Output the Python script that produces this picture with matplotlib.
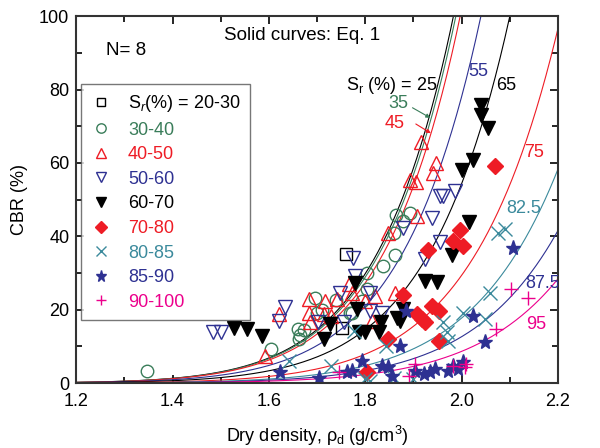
import numpy as np
import matplotlib
matplotlib.use('Agg')
import matplotlib.pyplot as plt
from matplotlib.ticker import MultipleLocator

plt.rcParams['font.family'] = ['Liberation Sans', 'DejaVu Sans']
plt.rcParams['mathtext.fontset'] = 'custom'
plt.rcParams['mathtext.rm'] = 'Liberation Sans'
plt.rcParams['mathtext.it'] = 'Liberation Sans:italic'

# colours used in the figure
GREEN = '#3a7d5a'
RED = '#ee1c25'
BLUE = '#2e3192'
TEAL = '#3b8a9c'
MAGENTA = '#ec008c'

# measured data (dry density g/cm3, CBR %) per degree-of-saturation group
sq_rho = [1.759, 1.752]
sq_cbr = [35.3, 15.0]

circ_rho = [1.347, 1.605, 1.66, 1.664, 1.662, 1.673, 1.695, 1.70, 1.710, 1.74,
            1.768, 1.772, 1.793, 1.803, 1.803, 1.837, 1.861, 1.859, 1.864, 1.879, 1.893]
circ_cbr = [3.4, 9.4, 14.7, 13.0, 12.0, 14.4, 23.3, 19.2, 19.9, 22.6,
            19.2, 19.2, 22.4, 25.5, 30.0, 32.0, 34.8, 41.0, 45.9, 44.1, 46.4]

tri_rho = [1.591, 1.621, 1.683, 1.683, 1.686, 1.717, 1.714, 1.728, 1.741, 1.766,
           1.772, 1.80, 1.821, 1.814, 1.848, 1.862, 1.893, 1.906, 1.907, 1.915,
           1.94, 1.947]
tri_cbr = [7.4, 18.8, 22.8, 19.2, 16.5, 22.4, 18.8, 18.3, 22.8, 26.9,
           24.6, 22.4, 23.7, 16.9, 40.9, 24.6, 55.4, 54.7, 45.5, 65.6,
           57.2, 60.0]

dtri_rho = [1.483, 1.50, 1.621, 1.634, 1.702, 1.748, 1.755, 1.774, 1.778, 1.81,
            1.81, 1.834, 1.878, 1.924, 1.938, 1.955, 1.955, 1.962, 1.986]
dtri_cbr = [13.8, 13.9, 16.9, 20.6, 16.5, 24.6, 16.7, 34.1, 29.3, 24.6,
            19.7, 19.2, 42.3, 33.7, 45.0, 38.4, 50.9, 50.9, 52.3]

ftri_rho = [1.528, 1.555, 1.585, 1.714, 1.726, 1.779, 1.783, 1.786, 1.799, 1.828,
            1.832, 1.866, 1.872, 1.879, 1.923, 1.948, 1.979, 2.0, 2.024, 2.016,
            2.041, 2.041, 2.055]
ftri_cbr = [15.1, 14.7, 12.9, 12.0, 16.0, 27.4, 20.1, 13.8, 13.9, 13.8,
            16.5, 17.8, 16.9, 20.1, 27.8, 27.5, 34.8, 58.0, 60.7, 43.8,
            75.8, 73.1, 69.5]

dia_rho = [1.803, 1.848, 1.879, 1.907, 1.917, 1.924, 1.931, 1.938, 1.952, 1.952,
           1.983, 1.997, 2.003, 2.069]
dia_cbr = [3.1, 12.1, 23.9, 18.8, 17.4, 16.7, 36.2, 21.0, 19.7, 11.5,
           38.7, 41.8, 37.3, 59.1]

x_rho = [1.641, 1.728, 1.776, 1.80, 1.81, 1.843, 1.86, 1.90, 1.962, 1.969,
         1.972, 2.003, 2.048, 2.059, 2.076, 2.09]
x_cbr = [6.1, 4.7, 14.2, 1.1, 0.6, 10.1, 1.5, 1.0, 16.5, 13.8,
         11.5, 19.2, 17.4, 24.6, 40.9, 42.0]

star_rho = [1.624, 1.703, 1.762, 1.772, 1.793, 1.834, 1.848, 1.855, 1.872, 1.885,
            1.903, 1.921, 1.934, 1.945, 1.972, 1.983, 1.993, 2.003, 2.024, 2.048,
            2.107]
star_cbr = [2.9, 1.5, 2.9, 3.4, 6.1, 4.7, 4.3, 2.0, 10.1, 19.7,
            3.4, 2.4, 2.9, 3.8, 3.4, 4.7, 3.8, 5.6, 18.3, 11.1,
            36.9]

plus_rho = [1.745, 1.89, 1.903, 1.983, 2.007, 2.01, 2.072, 2.103, 2.138]
plus_cbr = [3.1, 2.0, 5.2, 4.7, 4.3, 5.2, 14.7, 25.7, 23.3]

# Eq. 1 curves: CBR = 100 * (rho_d / rho_100)^n, rho_100
curve_sr = ['25', '35', '45', '55', '65', '75', '82.5', '87.5', '95']
curve_rho100 = [1.983, 1.988, 1.997, 2.040, 2.10, 2.206, 2.297, 2.36, 2.433]
curve_n = 12.5
curve_col = ['black', GREEN, RED, BLUE, 'black', RED, TEAL, BLUE, MAGENTA]

fig = plt.figure(figsize=(6, 4.48), dpi=100)
ax = fig.add_axes([0.127, 0.145, 0.803, 0.819])

rho = np.linspace(1.2, 2.2, 400)
for r100, c in zip(curve_rho100, curve_col):
    ax.plot(rho, 100 * (rho / r100) ** curve_n, color=c, lw=0.8, zorder=2)

ms = 9
ax.plot(sq_rho, sq_cbr, 's', mfc='none', mec='black', ms=8, mew=1, label='S$_r$(%) = 20-30')
ax.plot(circ_rho, circ_cbr, 'o', mfc='none', mec=GREEN, ms=ms, mew=1, label='30-40')
ax.plot(tri_rho, tri_cbr, '^', mfc='none', mec=RED, ms=ms + 1, mew=1, label='40-50')
ax.plot(dtri_rho, dtri_cbr, 'v', mfc='none', mec=BLUE, ms=ms + 1, mew=1, label='50-60')
ax.plot(ftri_rho, ftri_cbr, 'v', color='black', ms=ms + 1, mew=1, label='60-70')
ax.plot(dia_rho, dia_cbr, 'D', color=RED, ms=ms - 0.5, mew=1, label='70-80')
ax.plot(x_rho, x_cbr, 'x', color=TEAL, ms=ms + 1, mew=1, label='80-85')
ax.plot(star_rho, star_cbr, '*', color=BLUE, ms=ms + 2, mew=1, label='85-90')
ax.plot(plus_rho, plus_cbr, '+', color=MAGENTA, ms=ms + 1, mew=1, label='90-100')

ax.set_xlim(1.2, 2.2)
ax.set_ylim(0, 100)
ax.xaxis.set_major_locator(MultipleLocator(0.2))
ax.xaxis.set_minor_locator(MultipleLocator(0.1))
ax.yaxis.set_major_locator(MultipleLocator(20))
ax.yaxis.set_minor_locator(MultipleLocator(10))
ax.xaxis.set_major_formatter(matplotlib.ticker.FormatStrFormatter('%.1f'))
ax.tick_params(which='both', direction='in', top=True, right=True, labelsize=13, width=1.2)
ax.tick_params(which='major', length=6)
ax.tick_params(which='minor', length=4)
ax.tick_params(axis='x', pad=7)
ax.tick_params(axis='y', pad=5)
for s in ax.spines.values():
    s.set_linewidth(1.5)
    s.set_color('#333333')

ax.set_xlabel('Dry density, ρ$_\\mathregular{d}$ (g/cm$^\\mathregular{3}$)', fontsize=13, labelpad=10)
ax.set_ylabel('CBR (%)', fontsize=13, labelpad=8)

ax.text(1.507, 94.6, 'Solid curves: Eq. 1', fontsize=13.5, va='center')
ax.text(1.262, 90.6, 'N= 8', fontsize=13.5, va='center')

# curve labels
ax.text(1.759, 81.2, 'S$_\\mathregular{r}$ (%) = 25', fontsize=13, va='center')
ax.text(1.848, 76.1, '35', fontsize=13, va='center', color=GREEN)
ax.text(1.841, 70.7, '45', fontsize=13, va='center', color=RED)
ax.annotate('', xy=(1.940, 71.9), xytext=(1.893, 75.4),
            arrowprops=dict(arrowstyle='-|>', color=GREEN, lw=0.8, mutation_scale=6))
ax.annotate('', xy=(1.941, 67.7), xytext=(1.900, 71.0),
            arrowprops=dict(arrowstyle='-|>', color=RED, lw=0.8, mutation_scale=6))
ax.text(2.014, 84.9, '55', fontsize=13, va='center', color=BLUE)
ax.text(2.072, 81.0, '65', fontsize=13, va='center', color='black')
ax.text(2.129, 62.9, '75', fontsize=13, va='center', color=RED)
ax.text(2.093, 47.6, '82.5', fontsize=13, va='center', color=TEAL)
ax.text(2.131, 27.2, '87.5', fontsize=13, va='center', color=BLUE, clip_on=True)
ax.text(2.133, 16.0, '95', fontsize=13, va='center', color=MAGENTA)

leg = ax.legend(loc='upper left', bbox_to_anchor=(0.01, 0.815), borderaxespad=0,
                fontsize=13, frameon=True, fancybox=False, edgecolor='#555555',
                labelspacing=0.42, handletextpad=0.9, borderpad=0.5, handlelength=1.2,
                markerscale=0.75)
leg.get_frame().set_linewidth(1.0)
leg_cols = ['black', GREEN, RED, BLUE, 'black', RED, TEAL, BLUE, MAGENTA]
for t, c in zip(leg.get_texts(), leg_cols):
    t.set_color(c)

fig.savefig('out.png', dpi=100)
